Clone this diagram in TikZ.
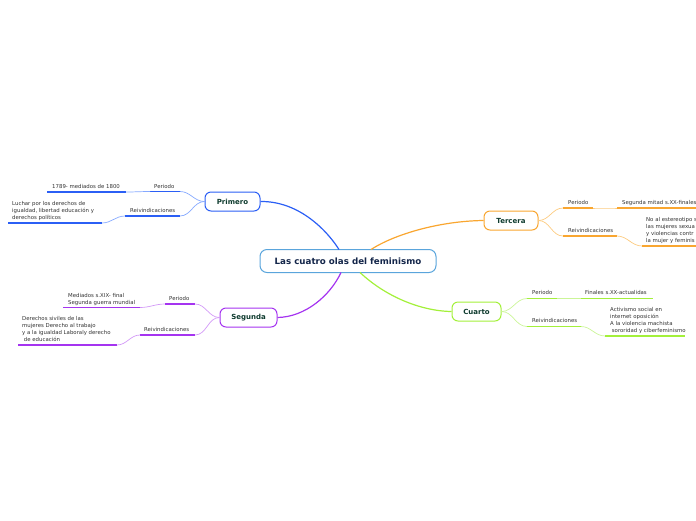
\documentclass[tikz,border=0pt]{standalone}
\usepackage{fontspec}
\setmainfont{DejaVu Sans}
\usetikzlibrary{calc}
\definecolor{cblue}{HTML}{2B5FF5}
\definecolor{cbluel}{HTML}{86A9FF}
\definecolor{cpurp}{HTML}{A534F0}
\definecolor{cpurpl}{HTML}{D39AF7}
\definecolor{corng}{HTML}{F9A630}
\definecolor{corngl}{HTML}{FCCB80}
\definecolor{cgrn}{HTML}{A3F03A}
\definecolor{cgrnl}{HTML}{CBF597}
\definecolor{ccent}{HTML}{5AA5DC}
\definecolor{ctopic}{HTML}{0E3B2E}
\definecolor{ctitle}{HTML}{14264A}
\definecolor{ctext}{HTML}{333333}
\tikzset{
  topic/.style={draw, fill=white, rounded corners=6pt, line width=1pt, inner sep=0pt,
    minimum height=19pt, text=ctopic, font=\fontsize{7}{8}\selectfont\bfseries},
  central/.style={draw=ccent, fill=white, rounded corners=7pt, line width=1pt, inner sep=0pt,
    minimum width=176pt, minimum height=23pt, text=ctitle, font=\fontsize{8.7}{9}\selectfont\bfseries},
  lbl/.style={inner sep=0pt, text=ctext, font=\fontsize{5.4}{7}\selectfont, anchor=base west},
  blk/.style={inner sep=0pt, text=ctext, font=\fontsize{5.4}{7}\selectfont, anchor=north west, align=left},
  uline/.style={line width=1.5pt},
  thin/.style={line width=0.7pt},
  mainlink/.style={line width=1.2pt}
}
\begin{document}
\begin{tikzpicture}[x=1pt,y=-1pt]
\useasboundingbox (0,0) rectangle (696,520);
\clip (0,0) rectangle (696,520);

% central and topics
\node[central] (c) at (348,261) {Las cuatro olas del feminismo};
\node[topic, draw=cblue, minimum width=55pt] (P) at (232.5,201.5) {Primero};
\node[topic, draw=cpurp, minimum width=57pt] (S) at (248.5,317.5) {Segunda};
\node[topic, draw=corng, minimum width=54pt] (T) at (511,220.5) {Tercera};
\node[topic, draw=cgrn, minimum width=49pt] (C) at (476.5,311.5) {Cuarto};

\coordinate (cP) at (339,249.5);
\coordinate (cT) at (371,249.5);
\coordinate (cS) at (341,272.5);
\coordinate (cC) at (360,272.5);

\draw[mainlink, cblue] (cP) .. controls (328,232) and (300,201) .. (P.east);
\draw[mainlink, corng] (cT) .. controls (395,234) and (440,221) .. (T.west);
\draw[mainlink, cpurp] (cS) .. controls (330,296) and (305,317) .. (S.east);
\draw[mainlink, cgrn] (cC) .. controls (385,296) and (420,311) .. (C.west);

% ---- Primero
\coordinate (pp1) at (150,191.5); \coordinate (pp2) at (180,191.5);
\coordinate (pv1) at (47,192);    \coordinate (pv2) at (126,192);
\coordinate (pr1) at (125,216);   \coordinate (pr2) at (180,216);
\coordinate (pw1) at (8,223);     \coordinate (pw2) at (102,223);
\node[lbl] (ppl) at (154,188) {Periodo};
\node[lbl] (pvl) at (52,188) {1789- mediados de 1800};
\node[lbl] (prl) at (130,212) {Reivindicaciones};
\node[blk] (pwl) at (12,201) {Luchar por los derechos de\\igualdad, libertad educación y\\derechos políticos};
\draw[uline, cblue] (pp1) -- (pp2);
\draw[uline, cblue] (pv1) -- (pv2);
\draw[uline, cblue] (pr1) -- (pr2);
\draw[uline, cblue] (pw1) -- (pw2);
\draw[thin, cbluel] (P.west) to[out=180,in=0] (pp2);
\draw[thin, cbluel] (P.west) to[out=180,in=0] (pr2);
\draw[thin, cbluel] (pp1) to[out=180,in=0] (pv2);
\draw[thin, cbluel] (pr1) to[out=180,in=0] (pw2);

% ---- Segunda
\coordinate (sp1) at (165,304);   \coordinate (sp2) at (195,304);
\coordinate (sv1) at (63,307.5);  \coordinate (sv2) at (140,307.5);
\coordinate (sr1) at (140,335);   \coordinate (sr2) at (195,335);
\coordinate (sw1) at (18,345);    \coordinate (sw2) at (117,345);
\node[lbl] (spl) at (169,300) {Periodo};
\node[blk] (svl) at (68,293) {Mediados s.XIX- final\\Segunda guerra mundial};
\node[lbl] (srl) at (144,331) {Reivindicaciones};
\node[blk] (swl) at (22,316) {Derechos siviles de las\\mujeres Derecho al trabajo\\y a la igualdad Laboraly derecho\\\ de educación};
\draw[uline, cpurp] (sp1) -- (sp2);
\draw[uline, cpurp] (sv1) -- (sv2);
\draw[uline, cpurp] (sr1) -- (sr2);
\draw[uline, cpurp] (sw1) -- (sw2);
\draw[thin, cpurpl] (S.west) to[out=180,in=0] (sp2);
\draw[thin, cpurpl] (S.west) to[out=180,in=0] (sr2);
\draw[thin, cpurpl] (sp1) to[out=180,in=0] (sv2);
\draw[thin, cpurpl] (sr1) to[out=180,in=0] (sw2);

% ---- Tercera
\coordinate (tp1) at (563,208);   \coordinate (tp2) at (593,208);
\coordinate (tv1) at (617,208);   \coordinate (tv2) at (700,208);
\coordinate (tr1) at (563,236);   \coordinate (tr2) at (617,236);
\coordinate (tw1) at (642,246);   \coordinate (tw2) at (700,246);
\node[lbl] (tpl) at (568,204) {Periodo};
\node[lbl] (tvl) at (622,204) {Segunda mitad s.XX-finales};
\node[lbl] (trl) at (568,232) {Reivindicaciones};
\node[blk] (twl) at (646,217) {No al estereotipo s\\las mujeres sexua\\y violencias contr\\la mujer y feminis};
\draw[uline, corng] (tp1) -- (tp2);
\draw[uline, corng] (tv1) -- (tv2);
\draw[uline, corng] (tr1) -- (tr2);
\draw[uline, corng] (tw1) -- (tw2);
\draw[thin, corngl] (T.east) to[out=0,in=180] (tp1);
\draw[thin, corngl] (T.east) to[out=0,in=180] (tr1);
\draw[thin, corngl] (tp2) to[out=0,in=180] (tv1);
\draw[thin, corngl] (tr2) to[out=0,in=180] (tw1);

% ---- Cuarto
\coordinate (cp1) at (527,298.5); \coordinate (cp2) at (557,298.5);
\coordinate (cv1) at (581,298.5); \coordinate (cv2) at (653,298.5);
\coordinate (cr1) at (527,326.5); \coordinate (cr2) at (581,326.5);
\coordinate (cw1) at (605,336);   \coordinate (cw2) at (685,336);
\node[lbl] (cpl) at (532,294) {Periodo};
\node[lbl] (cvl) at (585,294) {Finales s.XX-actualidas};
\node[lbl] (crl) at (532,322) {Reivindicaciones};
\node[blk] (cwl) at (610,307) {Activismo social en\\internet oposición\\A la violencia machista\\\ sororidad y ciberfeminismo};
\draw[uline, cgrn] (cp1) -- (cp2);
\draw[uline, cgrn] (cv1) -- (cv2);
\draw[uline, cgrn] (cr1) -- (cr2);
\draw[uline, cgrn] (cw1) -- (cw2);
\draw[thin, cgrnl] (C.east) to[out=0,in=180] (cp1);
\draw[thin, cgrnl] (C.east) to[out=0,in=180] (cr1);
\draw[thin, cgrnl] (cp2) to[out=0,in=180] (cv1);
\draw[thin, cgrnl] (cr2) to[out=0,in=180] (cw1);
\end{tikzpicture}
\end{document}
